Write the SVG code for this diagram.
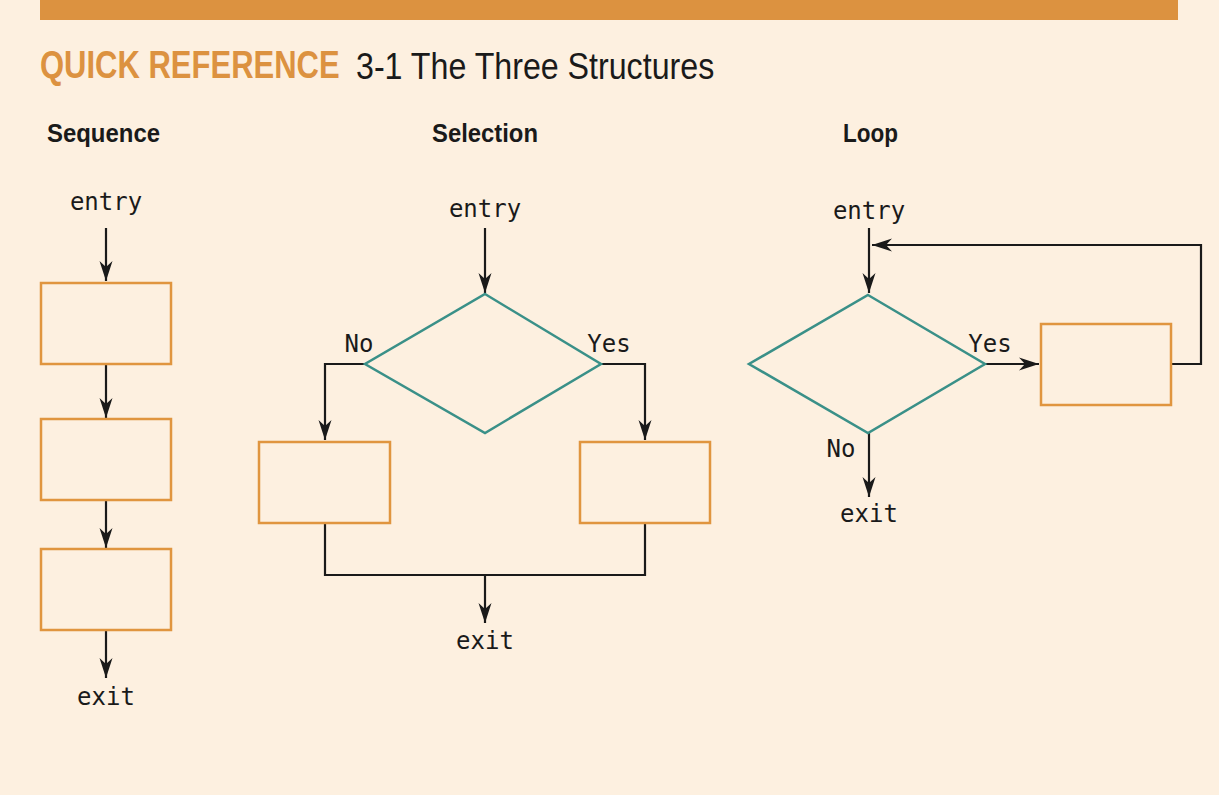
<svg xmlns="http://www.w3.org/2000/svg" width="1219" height="795" viewBox="0 0 1219 795">
<defs>
<marker id="arr" markerUnits="userSpaceOnUse" markerWidth="24" markerHeight="16" viewBox="-22 -8 24 16" refX="0" refY="0" orient="auto">
<path d="M0,0 L-20,-6.5 L-14,0 L-20,6.5 Z" fill="#1a1a1a"/>
</marker>
<style>
.box{fill:none;stroke:#E0953F;stroke-width:2.5}
.dia{fill:none;stroke:#3A9088;stroke-width:2.5}
.ln{fill:none;stroke:#1a1a1a;stroke-width:2.2}
.mono{font-family:"DejaVu Sans Mono","Liberation Mono",monospace;font-size:24px;fill:#1a1a1a}
.head{font-family:"Liberation Sans",Arial,sans-serif;font-weight:bold;font-size:25px;fill:#1a1a1a}
</style>
</defs>
<rect x="0" y="0" width="1219" height="795" fill="#FDF0E0"/>
<rect x="40" y="0" width="1138" height="20" fill="#DC9240"/>
<text transform="translate(40,78) scale(0.795,1)" x="0" y="0" font-family="'Liberation Sans',Arial,sans-serif" font-weight="bold" font-size="39" fill="#DC9240">QUICK REFERENCE</text>
<text transform="translate(356,79) scale(0.87,1)" x="0" y="0" font-family="'Liberation Sans',Arial,sans-serif" font-size="37" fill="#1a1a1a">3-1 The Three Structures</text>
<text class="head" x="47" y="142" textLength="113" lengthAdjust="spacingAndGlyphs">Sequence</text>
<text class="head" x="432" y="142" textLength="106" lengthAdjust="spacingAndGlyphs">Selection</text>
<text class="head" x="843" y="142" textLength="55" lengthAdjust="spacingAndGlyphs">Loop</text>

<g id="connectors">
<line class="ln" x1="106" y1="228" x2="106" y2="281" marker-end="url(#arr)"/>
<line class="ln" x1="106" y1="364" x2="106" y2="418" marker-end="url(#arr)"/>
<line class="ln" x1="106" y1="500" x2="106" y2="548" marker-end="url(#arr)"/>
<line class="ln" x1="106" y1="631" x2="106" y2="678" marker-end="url(#arr)"/>

<line class="ln" x1="485" y1="228" x2="485" y2="293" marker-end="url(#arr)"/>
<polyline class="ln" points="365,364 325,364 325,440" marker-end="url(#arr)"/>
<polyline class="ln" points="601,364 645,364 645,440" marker-end="url(#arr)"/>
<polyline class="ln" points="325,523 325,575 645,575 645,523"/>
<line class="ln" x1="485" y1="575" x2="485" y2="623" marker-end="url(#arr)"/>

<line class="ln" x1="869" y1="228" x2="869" y2="293" marker-end="url(#arr)"/>
<line class="ln" x1="985" y1="364" x2="1039" y2="364" marker-end="url(#arr)"/>
<polyline class="ln" points="1171,364 1201,364 1201,245 872,245" marker-end="url(#arr)"/>
<line class="ln" x1="869" y1="433" x2="869" y2="497" marker-end="url(#arr)"/>
</g>

<g id="seq-entry"><text class="mono" x="106" y="210" text-anchor="middle">entry</text></g>
<g id="seq-box1"><rect class="box" x="41" y="283" width="130" height="81"/></g>
<g id="seq-box2"><rect class="box" x="41" y="419" width="130" height="81"/></g>
<g id="seq-box3"><rect class="box" x="41" y="549" width="130" height="81"/></g>
<g id="seq-exit"><text class="mono" x="106" y="705" text-anchor="middle">exit</text></g>

<g id="sel-entry"><text class="mono" x="485" y="217" text-anchor="middle">entry</text></g>
<g id="sel-decision"><polygon class="dia" points="485,294 601,364 485,433 365,364"/></g>
<g id="sel-no-box"><rect class="box" x="259" y="442" width="131" height="81"/></g>
<g id="sel-yes-box"><rect class="box" x="580" y="442" width="130" height="81"/></g>
<g id="sel-exit"><text class="mono" x="485" y="649" text-anchor="middle">exit</text></g>
<text class="mono" x="359" y="352" text-anchor="middle">No</text>
<text class="mono" x="609" y="352" text-anchor="middle">Yes</text>

<g id="loop-entry"><text class="mono" x="869" y="219" text-anchor="middle">entry</text></g>
<g id="loop-decision"><polygon class="dia" points="868,295 985,364 868,433 749,364"/></g>
<g id="loop-box"><rect class="box" x="1041" y="324" width="130" height="81"/></g>
<g id="loop-exit"><text class="mono" x="869" y="522" text-anchor="middle">exit</text></g>
<text class="mono" x="990" y="352" text-anchor="middle">Yes</text>
<text class="mono" x="841" y="457" text-anchor="middle">No</text>
</svg>
